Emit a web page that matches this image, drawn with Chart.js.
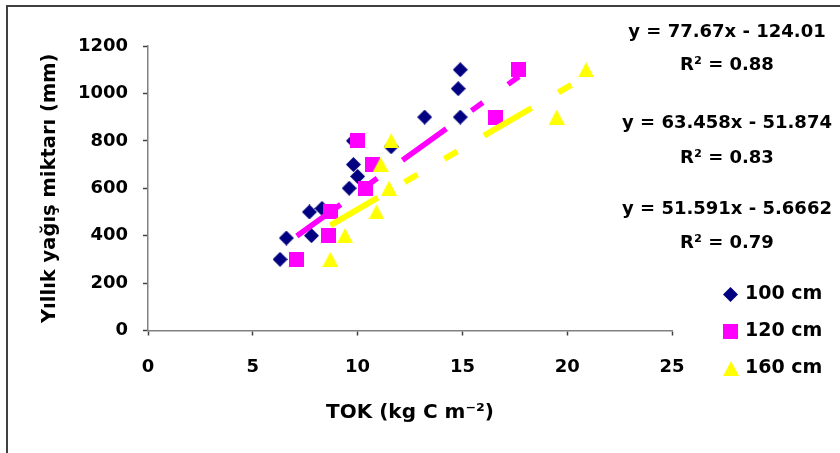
<!DOCTYPE html>
<html><head><meta charset="utf-8">
<script src="https://cdn.jsdelivr.net/npm/chart.js@4.4.1/dist/chart.umd.min.js"></script>
<style>html,body{margin:0;padding:0;background:#fff;}canvas{display:block;}</style>
</head><body>
<canvas id="c" width="840" height="453"></canvas>
<script>
// ---- data ----
const seriesLabels = ['100 cm', '120 cm', '160 cm'];
const tok100  = [6.3, 6.6, 7.7, 7.8, 8.3, 9.6, 9.8, 10.0, 9.8, 11.6, 13.2, 14.8, 14.9, 14.9];
const rain100 = [300, 390, 500, 400, 515, 600, 700, 650, 800, 775, 900, 1020, 1100, 900];
const tok120  = [7.1, 8.6, 8.7, 10.0, 10.4, 10.7, 16.6, 17.7];
const rain120 = [300, 400, 500, 800, 600, 700, 900, 1100];
const tok160  = [8.7, 9.4, 10.9, 11.5, 11.1, 11.6, 19.5, 20.9];
const rain160 = [300, 400, 500, 600, 700, 800, 900, 1100];
const trend120 = [63.458, -51.874];   // slope, intercept
const trend160 = [51.591, -5.6662];
const equations = ['y = 77.67x - 124.01', 'R² = 0.88', 'y = 63.458x - 51.874', 'R² = 0.83', 'y = 51.591x - 5.6662', 'R² = 0.79'];
const xTicks = [0, 5, 10, 15, 20, 25];
const yTicks = [0, 200, 400, 600, 800, 1000, 1200];
const xTitle = 'TOK (kg C m⁻²)';
const yTitle = 'Yıllık yağış miktarı (mm)';

const FONT = "'DejaVu Sans', sans-serif";
const NAVY = '#000080', PINK = '#FF00FF', YEL = '#FFFF00';

function marker(kind, color) {
  const c = document.createElement('canvas');
  const w = kind === 'tri' ? 16 : 15, h = 15;
  c.width = w; c.height = h;
  const g = c.getContext('2d');
  g.fillStyle = color;
  g.beginPath();
  if (kind === 'dia') { g.moveTo(7.5, 0); g.lineTo(15, 7.5); g.lineTo(7.5, 15); g.lineTo(0, 7.5); }
  else if (kind === 'sq') { g.rect(0, 0, 15, 15); }
  else { g.moveTo(8, 0); g.lineTo(16, 15); g.lineTo(0, 15); }
  g.closePath(); g.fill();
  return c;
}
const mDia = marker('dia', NAVY), mSq = marker('sq', PINK), mTri = marker('tri', YEL);

const pts = (xs, ys) => xs.map((x, i) => ({x: x, y: ys[i]}));
const trendPts = (xs, t) => {
  const a = Math.min(...xs), b = Math.max(...xs);
  return [{x: a, y: t[0] * a + t[1]}, {x: b, y: t[0] * b + t[1]}];
};

const decor = {
  id: 'decor',
  beforeDraw(chart) {
    const ctx = chart.ctx;
    ctx.save();
    ctx.fillStyle = '#fff'; ctx.fillRect(0, 0, chart.width, chart.height);
    ctx.strokeStyle = '#404040'; ctx.lineWidth = 2;
    ctx.strokeRect(7, 6, 900, 500);
    ctx.restore();
  },
  afterDraw(chart) {
    const ctx = chart.ctx;
    ctx.save();
    ctx.fillStyle = '#000';
    ctx.font = 'bold 18px ' + FONT;
    ctx.textAlign = 'center'; ctx.textBaseline = 'middle';
    const ey = [32, 65, 123, 158, 209, 243];
    equations.forEach((t, i) => ctx.fillText(t, 727, ey[i]));
    const ly = [294, 331, 368];
    const ms = [mDia, mSq, mTri];
    ctx.font = 'bold 19px ' + FONT;
    ctx.textAlign = 'left';
    seriesLabels.forEach((t, i) => {
      const m = ms[i];
      ctx.drawImage(m, Math.round(730.5 - m.width / 2), Math.round(ly[i] - m.height / 2));
      ctx.fillText(t, 745, ly[i]);
    });
    ctx.restore();
  }
};

new Chart(document.getElementById('c'), {
  type: 'scatter',
  data: {
    datasets: [
      {type: 'line', label: 'trend 120', data: trendPts(tok120, trend120), borderColor: PINK, borderWidth: 5.5,
       borderDash: [54, 31, 14, 31], borderCapStyle: 'butt', pointRadius: 0, fill: false, order: 0},
      {type: 'line', label: 'trend 160', data: trendPts(tok160, trend160), borderColor: YEL, borderWidth: 6,
       borderDash: [55, 31, 15, 31, 15, 31], borderCapStyle: 'butt', pointRadius: 0, fill: false, order: 0},
      {label: seriesLabels[2], data: pts(tok160, rain160), pointStyle: mTri, pointRadius: 8, backgroundColor: YEL, order: 1},
      {label: seriesLabels[1], data: pts(tok120, rain120), pointStyle: mSq, pointRadius: 8, backgroundColor: PINK, order: 2},
      {label: seriesLabels[0], data: pts(tok100, rain100), pointStyle: mDia, pointRadius: 8, backgroundColor: NAVY, order: 3}
    ]
  },
  options: {
    responsive: false, animation: false, devicePixelRatio: 1,
    layout: {padding: {left: 0, top: 46, right: 168, bottom: 0}},
    plugins: {legend: {display: false}, tooltip: {enabled: false}},
    scales: {
      x: {
        type: 'linear', min: 0, max: 25,
        afterBuildTicks: s => { s.ticks = xTicks.map(v => ({value: v})); },
        afterFit: s => { s.height = 122.5; },
        grid: {drawOnChartArea: false, drawTicks: true, tickLength: 5, tickColor: '#404040', tickWidth: 1.5},
        border: {color: '#808080', width: 1.5},
        ticks: {color: '#000', padding: 21, callback: v => String(v), font: {family: FONT, size: 18, weight: 'bold'}},
        title: {display: true, text: xTitle, color: '#000', padding: {top: 0, bottom: 28}, font: {family: FONT, size: 20, weight: 'bold'}}
      },
      y: {
        type: 'linear', min: 0, max: 1200,
        afterBuildTicks: s => { s.ticks = yTicks.map(v => ({value: v})); },
        afterFit: s => { s.width = 148; },
        grid: {drawOnChartArea: false, drawTicks: true, tickLength: 5, tickColor: '#404040', tickWidth: 1.5},
        border: {color: '#808080', width: 1.5},
        ticks: {color: '#000', padding: 15, callback: v => String(v), font: {family: FONT, size: 18, weight: 'bold'}},
        title: {display: true, text: yTitle, color: '#000', padding: {top: 38, bottom: 0}, font: {family: FONT, size: 19.5, weight: 'bold'}}
      }
    }
  },
  plugins: [decor]
});
</script>
</body></html>
